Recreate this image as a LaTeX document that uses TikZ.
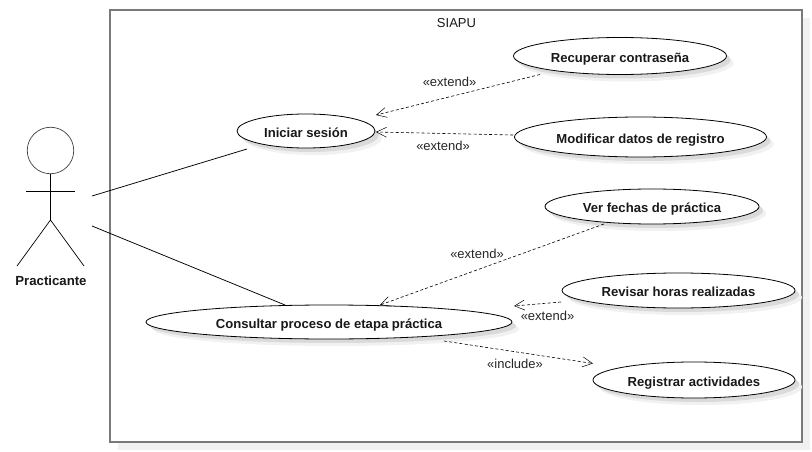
\documentclass[tikz,border=0pt]{standalone}
\usepackage{fontspec}
\setmainfont{Liberation Sans}
\usetikzlibrary{shapes.geometric,arrows.meta,shadows}
\definecolor{frameg}{HTML}{7A7A7A}
\definecolor{shadowa}{HTML}{F1F1F1}
\definecolor{shadowb}{HTML}{DADADA}
\tikzset{
  uc/.style={ellipse,draw=black,line width=0.8pt,fill=white,inner sep=0pt,
    text height=12.5pt,text depth=0pt,
    font=\fontsize{13.1}{15}\selectfont\bfseries,text=black!90,
    general shadow={shadow xshift=7pt,shadow yshift=-7pt,fill=shadowa,draw=none},
    general shadow={shadow xshift=4pt,shadow yshift=-4pt,fill=shadowb,draw=none}},
  stereo/.style={font=\fontsize{13}{15}\selectfont,text=black!85,inner sep=0pt},
  assoc/.style={line width=0.75pt,black},
  dep/.style={line width=0.6pt,black,dash pattern=on 3pt off 2.2pt,
    -{Straight Barb[length=10pt,width=10pt,line width=0.5pt]}},
  limb/.style={line width=0.7pt,black}
}
\begin{document}
\begin{tikzpicture}[x=1pt,y=-1pt]
\useasboundingbox (0,0) rectangle (812,452);
\fill[white] (0,0) rectangle (812,452);
% system boundary
\node (frame) at (456,226) [rectangle,draw=frameg,line width=1.6pt,fill=white,
  minimum width=692pt,minimum height=432pt,inner sep=0pt,
  general shadow={shadow xshift=8pt,shadow yshift=-8pt,fill=shadowa,draw=none}] {};
\node[font=\fontsize{13}{15}\selectfont,text=black!90,inner sep=0pt] (siapu) at (456.5,23) {SIAPU};
% use cases
\node[uc,minimum width=138pt,minimum height=34pt] (ini) at (306,131) {Iniciar sesión};
\node[uc,minimum width=213pt,minimum height=37pt] (rec) at (620,56) {Recuperar contraseña};
\node[uc,minimum width=252pt,minimum height=40pt] (mod) at (640.5,137) {Modificar datos de registro};
\node[uc,minimum width=214pt,minimum height=35pt] (ver) at (652,206.5) {Ver fechas de práctica};
\node[uc,minimum width=233pt,minimum height=35pt] (rev) at (678.5,290.5) {Revisar horas realizadas};
\node[uc,minimum width=366pt,minimum height=34pt] (con) at (329,322) {Consultar proceso de etapa práctica};
\node[uc,minimum width=202pt,minimum height=36pt] (reg) at (694,380) {Registrar actividades};
% actor
\node[circle,draw=black!75,line width=0.7pt,minimum size=46.5pt,inner sep=0pt] (head) at (50.5,150.5) {};
\coordinate (hip) at (50.5,220);
\coordinate (armL) at (26,191);
\coordinate (armR) at (75,191);
\coordinate (footL) at (17,266);
\coordinate (footR) at (84,266);
\draw[limb] (head.south) -- (hip);
\draw[limb] (armL) -- (armR);
\draw[limb] (footL) -- (hip) -- (footR);
\node[font=\fontsize{13.2}{15}\selectfont\bfseries,text=black!90,inner sep=0pt] (act) at (51,281) {Practicante};
% free ends
\coordinate (a1) at (92,196);
\coordinate (a1e) at (247,149);
\coordinate (a2) at (92,226);
\coordinate (a2e) at (285,305);
\coordinate (d1s) at (540,74.5);
\coordinate (d1e) at (376,115);
\coordinate (d2s) at (513,135);
\coordinate (d2e) at (376,132);
\coordinate (d3s) at (604,224);
\coordinate (d3e) at (380,305);
\coordinate (d4s) at (561,302);
\coordinate (d4e) at (514,306);
\coordinate (d5s) at (444,341);
\coordinate (d5e) at (593,363.5);
% associations
\draw[assoc] (a1) -- (a1e);
\draw[assoc] (a2) -- (a2e);
% dependencies
\draw[dep] (d1s) -- (d1e);
\draw[dep] (d2s) -- (d2e);
\draw[dep] (d3s) -- (d3e);
\draw[dep] (d4s) -- (d4e);
\draw[dep] (d5s) -- (d5e);
% labels
\node[stereo] (l1) at (449.5,82) {«extend»};
\node[stereo] (l2) at (443,145.5) {«extend»};
\node[stereo] (l3) at (477,254) {«extend»};
\node[stereo] (l4) at (547.5,315.5) {«extend»};
\node[stereo] (l5) at (515,363.5) {«include»};
\end{tikzpicture}
\end{document}
